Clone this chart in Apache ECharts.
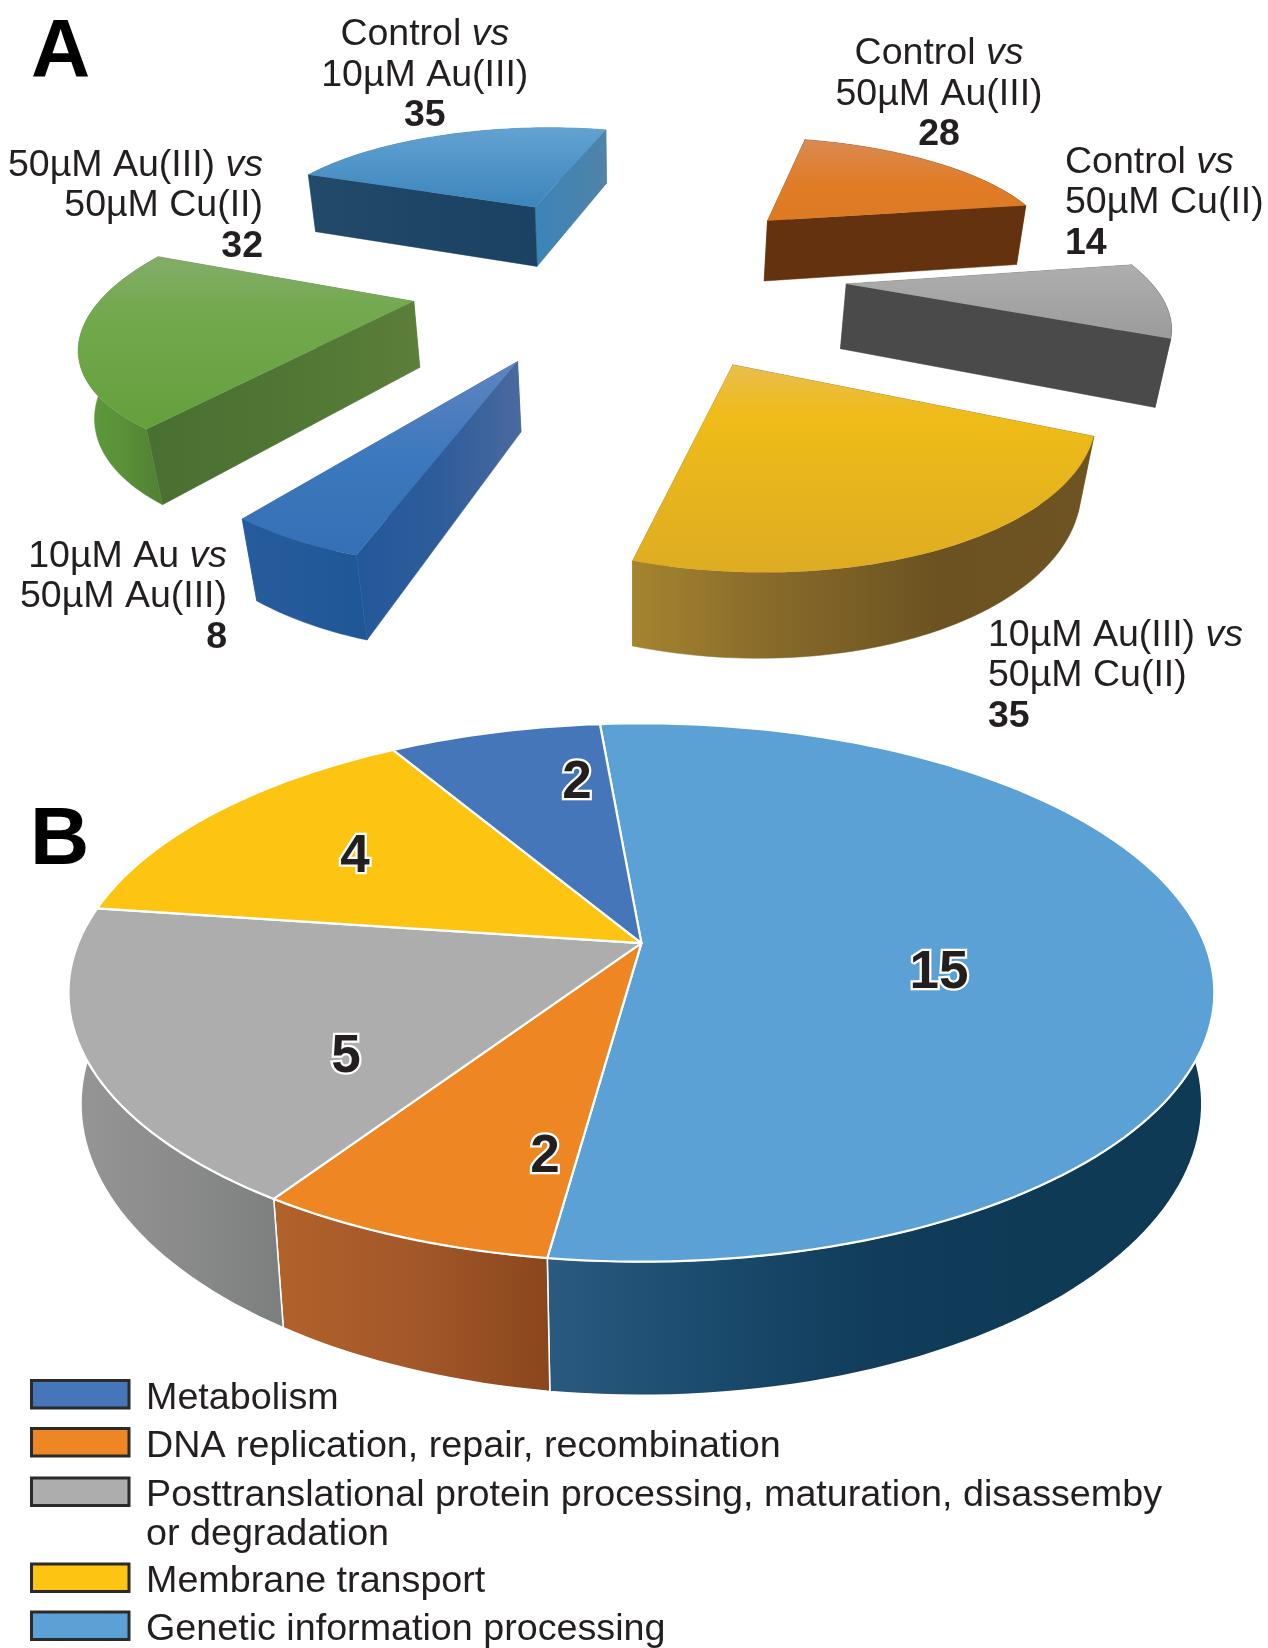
<!DOCTYPE html>
<html>
<head>
<meta charset="utf-8">
<title>Differentially expressed proteins</title>
<script src="https://cdn.jsdelivr.net/npm/echarts@6/dist/echarts.min.js"></script>
<style>
  html, body { margin: 0; padding: 0; background: #fff; }
  #chart { width: 1268px; height: 1648px; }
</style>
</head>
<body>
<div id="chart"></div>
<script>
// Panel A: pairwise comparisons, clockwise from the top right
const comparisonFirstLines = ['Control', 'Control', '10µM Au(III)', '10µM Au', '50µM Au(III)', 'Control'];
const comparisonSecondLines = ['50µM Au(III)', '50µM Cu(II)', '50µM Cu(II)', '50µM Au(III)', '50µM Cu(II)', '10µM Au(III)'];
const comparisonCounts = [28, 14, 35, 8, 32, 35];

// Panel B: functional categories, in legend order
const functionNames = [
  'Metabolism',
  'DNA replication, repair, recombination',
  'Posttranslational protein processing, maturation, disassemby\nor degradation',
  'Membrane transport',
  'Genetic information processing'
];
const functionCounts = [2, 2, 5, 4, 15];
const functionSliceOrder = [4, 1, 2, 3, 0];

const FONT = '"Liberation Sans", Arial, sans-serif';
const INK = '#231f20';

// Perspective camera of a pie: ground coordinates (u right, v away) in radii.
// Wall height grows linearly with screen y and vanishes at y = wallZero.
function makeCamera(cx, cy, R, K, p, wallRate, wallZero, yv) {
  const ground = (u, v) => {
    const w = 1 + p * v;
    return [cx + R * u / w, cy - K * v / w];
  };
  const lower = (pt) => {
    const f = wallRate * (pt[1] - wallZero) / (yv - pt[1]);
    return [pt[0] + f * (cx - pt[0]), pt[1] + f * (yv - pt[1])];
  };
  return { ground, lower };
}

const cameraA = makeCamera(630.8, 420.6, 375.4, 186.1, 0.253, 0.0733, -600, 2700);
const cameraB = makeCamera(641.4, 943.1, 563.2, 260.1, 0.1836, 0.077, -473.6, 6150);

function hGrad(stops) {
  return new echarts.graphic.LinearGradient(0, 0, 1, 0,
    stops.map((color, i) => ({ offset: i / (stops.length - 1), color })));
}
function vGrad(stops) {
  return new echarts.graphic.LinearGradient(0, 0, 0, 1,
    stops.map((s) => ({ offset: s[0], color: s[1] })));
}

// Builds the faces of one wedge; `radial` adds the two flat cut walls
function wedgeFaces(camera, ox, oy, a0, a1, look, radial) {
  const pts = [];
  const steps = Math.max(6, Math.ceil((a1 - a0) / 1.5));
  for (let i = 0; i <= steps; i++) {
    const a = (a0 + (a1 - a0) * i / steps) * Math.PI / 180;
    pts.push({ u: ox + Math.sin(a), v: oy + Math.cos(a) });
  }
  const apexG = { u: ox, v: oy };
  const P = (g) => camera.ground(g.u, g.v);
  const L = (g) => camera.lower(P(g));
  const quad = (list, fill, depth) => ({
    depth,
    el: {
      type: 'polygon',
      shape: { points: list.map(P).concat(list.slice().reverse().map(L)) },
      style: { fill, stroke: look.seam || fill, lineWidth: look.seam ? 1.5 : 0.5 }
    }
  });
  const first = pts[0], last = pts[pts.length - 1];
  const mid = pts[Math.floor(pts.length / 2)];
  const list = [quad(pts, look.arcWall, mid.v - 0.2)];
  if (radial) {
    list.push(quad([apexG, first], look.startWall, (apexG.v + first.v) / 2));
    list.push(quad([apexG, last], look.endWall, (apexG.v + last.v) / 2));
  }
  const walls = list.sort((a, b) => b.depth - a.depth).map((w) => w.el);
  const top = {
    type: 'polygon',
    shape: { points: [P(apexG)].concat(pts.map(P)) },
    style: { fill: look.top, stroke: look.edge || 'none', lineWidth: look.edge ? 2.2 : 0, lineJoin: 'round' }
  };
  return { walls, top };
}

// Faces of the exploded wedges in panel A
const comparisonLooks = [
  { top: vGrad([[0, '#da8a52'], [0.55, '#e07c26'], [1, '#dd7a22']]), startWall: '#8a4a18', endWall: '#64320f', arcWall: '#7a4014' },
  { top: vGrad([[0, '#aeaeae'], [1, '#9b9b9b']]), startWall: '#6a6a6a', endWall: '#4a4a4a', arcWall: '#4a4a4a' },
  { top: vGrad([[0, '#e9bd4e'], [0.25, '#efbc18'], [1, '#deac22']]), startWall: '#8a6c24', endWall: '#a5842f', arcWall: hGrad(['#a5842f', '#85682a', '#6b5220', '#6e5422']) },
  { top: vGrad([[0, '#5f84c0'], [0.5, '#3c78bd'], [1, '#366fb5']]), startWall: hGrad(['#24589a', '#2e5c9b', '#4a6a9f']), endWall: '#2a5f9f', arcWall: hGrad(['#275c9c', '#1f5796']) },
  { top: vGrad([[0, '#83ad69'], [0.3, '#74a94f'], [1, '#65a03c']]), startWall: hGrad(['#497032', '#4f7634', '#5c7f3a']), endWall: '#5c8a40', arcWall: hGrad(['#5e9c3c', '#5a9039', '#4f7c32']) },
  { top: vGrad([[0, '#63a2d2'], [1, '#3b85bd']]), startWall: hGrad(['#244a6a', '#1e4565', '#1b4262']), endWall: hGrad(['#3c84b8', '#5083a8']), arcWall: '#3c7fae' }
];
// Ground position of each wedge's tip after the explosion
const comparisonOffsets = [[0.5, 1.474], [0.705, 0.902], [0.294, 0.324], [-0.328, 0.345], [-0.69, 0.765], [-0.36, 1.615]];
// Text anchors of the wedge captions
const comparisonCaptions = [
  { x: 939, y: 94.5, align: 'center' },
  { x: 1065, y: 203, align: 'left' },
  { x: 988, y: 676, align: 'left' },
  { x: 227, y: 597, align: 'right' },
  { x: 263, y: 206, align: 'right' },
  { x: 424.8, y: 75.5, align: 'center' }
];
const comparisonStartAngle = 14.5;

// Faces of the panel B pie, in legend order
const functionLooks = [
  { top: '#4576ba', arcWall: '#2a5a96' },
  { top: '#ee8623', arcWall: hGrad(['#b2622a', '#a3582a', '#8a461c']) },
  { top: '#adadad', arcWall: hGrad(['#969696', '#8b8b8b', '#7c7f7f']) },
  { top: '#fdc411', arcWall: '#979797' },
  { top: '#5ca1d6', arcWall: hGrad(['#2a5a80', '#1a4a6c', '#113c5a', '#0f3a56', '#0f3a56']) }
];
const functionLabelAnchors = [[577, 783], [545, 1157], [346, 1057], [355, 857], [939, 973]];
const functionStartAngle = -5;

const legendSwatches = [[31.5, 1380.5], [31.5, 1428.5], [31.5, 1478], [31.5, 1564], [31.5, 1612]];

function angleOf(counts, index, start) {
  const total = counts.reduce((a, b) => a + b, 0);
  let sum = 0;
  for (let i = 0; i < index; i++) sum += counts[i];
  return [start + sum / total * 360, start + (sum + counts[index]) / total * 360];
}

const comparisonSeries = {
  type: 'custom',
  coordinateSystem: 'none',
  silent: true,
  animation: false,
  data: comparisonCounts.map((count, i) => ({ name: comparisonSecondLines[i], value: [i, count] })),
  renderItem(params, api) {
    const i = api.value(0);
    const [a0, a1] = angleOf(comparisonCounts, i, comparisonStartAngle);
    const off = comparisonOffsets[i];
    const faces = wedgeFaces(cameraA, off[0], off[1], a0, a1, comparisonLooks[i], true);
    const children = faces.walls.concat([faces.top]);
    const cap = comparisonCaptions[i];
    const fs = 37.5;
    const rule = { fontFamily: FONT, fontSize: fs, lineHeight: 40.5, fill: INK, align: cap.align };
    children.push({
      type: 'text',
      style: {
        x: cap.x, y: cap.y, align: cap.align, verticalAlign: 'middle',
        text: `{n|${comparisonFirstLines[i]} }{i|vs}\n{n|${comparisonSecondLines[i]}}\n{b|${api.value(1)}}`,
        fill: INK,
        rich: {
          n: rule,
          i: Object.assign({}, rule, { fontStyle: 'italic' }),
          b: Object.assign({}, rule, { fontWeight: 'bold' })
        }
      }
    });
    return { type: 'group', children };
  }
};

// Panel B is drawn in two passes so the whole top surface covers the side wall
function functionPass(pass) {
  return {
    type: 'custom',
    coordinateSystem: 'none',
    silent: true,
    animation: false,
    data: functionSliceOrder.map((k) => ({ name: functionNames[k], value: [k, functionCounts[k]] })),
    renderItem(params, api) {
      const k = api.value(0);
      const ordered = functionSliceOrder.map((j) => functionCounts[j]);
      const [a0, a1] = angleOf(ordered, params.dataIndex, functionStartAngle);
      const base = functionLooks[k];
      const look = { top: base.top, arcWall: base.arcWall, seam: '#ffffff', edge: '#ffffff' };
      const faces = wedgeFaces(cameraB, 0, 0, a0, a1, look, false);
      return { type: 'group', children: pass === 'walls' ? faces.walls : [faces.top] };
    }
  };
}

const functionLabelSeries = {
  type: 'custom',
  coordinateSystem: 'none',
  silent: true,
  animation: false,
  data: functionCounts.map((count, k) => ({ name: functionNames[k], value: [k, count] })),
  renderItem(params, api) {
    const k = api.value(0);
    const [x, y] = functionLabelAnchors[k];
    return {
      type: 'text',
      style: {
        x, y, align: 'center', verticalAlign: 'middle',
        text: String(api.value(1)),
        fill: INK, stroke: '#ffffff', lineWidth: 4.5,
        font: `bold 53px ${FONT}`
      }
    };
  }
};

const legendSeries = {
  type: 'custom',
  coordinateSystem: 'none',
  silent: true,
  animation: false,
  data: functionNames.map((name, k) => ({ name, value: [k] })),
  renderItem(params, api) {
    const k = api.value(0);
    const [x, y] = legendSwatches[k];
    return {
      type: 'group',
      children: [
        {
          type: 'rect',
          shape: { x, y, width: 97.5, height: 27.5 },
          style: { fill: functionLooks[k].top, stroke: '#2b2b2b', lineWidth: 3 }
        },
        {
          type: 'text',
          style: {
            x: 146, y: y - 1.5, align: 'left', verticalAlign: 'top',
            text: functionNames[k], fill: INK,
            font: `37.7px ${FONT}`, lineHeight: 38.5
          }
        }
      ]
    };
  }
};

const chart = echarts.init(document.getElementById('chart'));
chart.setOption({
  backgroundColor: '#ffffff',
  animation: false,
  series: [comparisonSeries, functionPass('walls'), functionPass('top'), functionLabelSeries, legendSeries],
  graphic: [
    { type: 'text', x: 31, y: 94, style: { text: 'A', fill: '#000', font: `bold 82px ${FONT}`, verticalAlign: 'bottom' } },
    { type: 'text', x: 30, y: 882, style: { text: 'B', fill: '#000', font: `bold 82px ${FONT}`, verticalAlign: 'bottom' } }
  ]
});
</script>
</body>
</html>
